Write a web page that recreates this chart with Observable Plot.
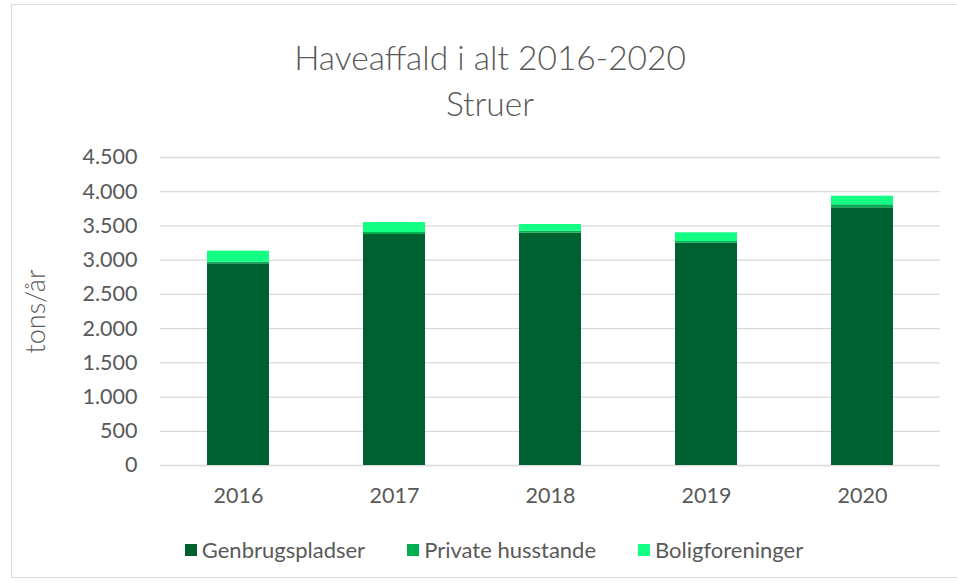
<!DOCTYPE html>
<html>
<head>
<meta charset="utf-8">
<script src="https://cdn.jsdelivr.net/npm/d3@7"></script>
<script src="https://cdn.jsdelivr.net/npm/@observablehq/plot@0.6"></script>
<style>
  html, body { margin: 0; padding: 0; background: #fff; }
  body { width: 957px; height: 581px; position: relative; overflow: hidden; font-family: Lato, "Open Sans", sans-serif; color: #595959; }
  #frame { position: absolute; left: 11px; top: 4px; width: 960px; height: 574px; border: 1px solid #d9d9d9; box-sizing: border-box; }
  #title { position: absolute; left: 0; width: 980px; top: 34px; text-align: center; font-size: 33.5px; line-height: 46px; color: #595959; font-weight: 300; }
  #chart { position: absolute; left: 0; top: 140px; }
  #legend { position: absolute; left: 0; width: 988px; top: 536px; display: flex; justify-content: center; gap: 42px; font-size: 22px; color: #595959; }
  .item { display: flex; align-items: center; gap: 5px; }
  .sw { width: 12px; height: 12px; display: inline-block; }
</style>
</head>
<body>
<div id="frame"></div>
<div id="title">Haveaffald i alt 2016-2020<br>Struer</div>
<div id="chart"></div>
<div id="legend"></div>
<script>
const years = ["2016", "2017", "2018", "2019", "2020"];
const seriesNames = ["Genbrugspladser", "Private husstande", "Boligforeninger"];
const genbrugspladser = [2947, 3375, 3394, 3248, 3765];
const privateHusstande = [23, 29, 29, 25, 44];
const boligforeninger = [161, 146, 98, 127, 126];
const colors = ["#006130", "#00b050", "#12ff84"];
const yTicks = [0, 500, 1000, 1500, 2000, 2500, 3000, 3500, 4000, 4500];
const yLabel = "tons/år";

const seriesValues = [genbrugspladser, privateHusstande, boligforeninger];
const data = [];
years.forEach((y, i) => {
  seriesNames.forEach((s, j) => data.push({year: y, series: s, value: seriesValues[j][i]}));
});

const fmt = d3.formatLocale({decimal: ",", thousands: ".", grouping: [3], currency: ["", " kr."]}).format(",d");

const chart = Plot.plot({
  width: 957,
  height: 375,
  marginTop: 17,
  marginBottom: 50,
  marginLeft: 160,
  marginRight: 17,
  style: {fontFamily: "Lato, 'Open Sans', sans-serif", fontSize: "21.5px", color: "#595959", background: "transparent"},
  x: {domain: years, paddingInner: 0.6, paddingOuter: 0.3, label: null, tickSize: 0, tickPadding: 22},
  y: {domain: [0, 4500], ticks: yTicks, tickFormat: fmt, tickSize: 0, tickPadding: 23, label: null, grid: false},
  color: {domain: seriesNames, range: colors},
  marks: [
    Plot.ruleY(yTicks, {stroke: "#d9d9d9", strokeWidth: 1.3}),
    Plot.barY(data, {x: "year", y: "value", fill: "series", order: seriesNames}),
    Plot.text([yLabel], {frameAnchor: "left", textAnchor: "middle", rotate: -90, dx: -124, fontSize: 27, fontWeight: 300, fill: "#595959", text: d => d})
  ]
});
document.getElementById("chart").appendChild(chart);

const legend = document.getElementById("legend");
seriesNames.forEach((s, j) => {
  const it = document.createElement("div");
  it.className = "item";
  it.innerHTML = `<span class="sw" style="background:${colors[j]}"></span><span>${s}</span>`;
  legend.appendChild(it);
});
</script>
</body>
</html>
